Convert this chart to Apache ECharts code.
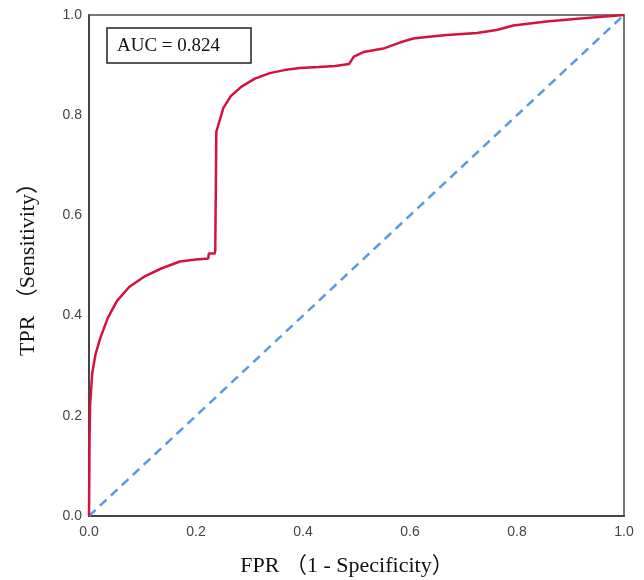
<!DOCTYPE html>
<html>
<head>
<meta charset="utf-8">
<script src="https://cdn.jsdelivr.net/npm/echarts@6/dist/echarts.min.js"></script>
<style>html,body{margin:0;padding:0;background:#fff}#c{width:644px;height:580px}</style>
</head>
<body>
<div id="c"></div>
<script>
var fpr = [0, 0.001, 0.002, 0.006, 0.012, 0.021, 0.035, 0.052, 0.075, 0.105, 0.135, 0.170, 0.200, 0.223, 0.224, 0.235, 0.236, 0.238, 0.251, 0.265, 0.285, 0.310, 0.338, 0.365, 0.394, 0.430, 0.460, 0.486, 0.495, 0.513, 0.550, 0.581, 0.606, 0.640, 0.669, 0.725, 0.762, 0.793, 0.855, 0.918, 1.0];
var tpr = [0, 0.150, 0.220, 0.285, 0.322, 0.355, 0.395, 0.429, 0.457, 0.479, 0.494, 0.508, 0.512, 0.514, 0.524, 0.524, 0.530, 0.767, 0.814, 0.838, 0.857, 0.873, 0.884, 0.890, 0.894, 0.896, 0.898, 0.902, 0.917, 0.926, 0.933, 0.945, 0.953, 0.957, 0.960, 0.964, 0.970, 0.979, 0.987, 0.993, 1.0];
var refX = [0, 1];
var refY = [0, 1];
var ticks = [0, 0.2, 0.4, 0.6, 0.8, 1.0];
var aucText = 'AUC = 0.824';
var xTitle = 'FPR （1 - Specificity）';
var yTitle = 'TPR （Sensitivity）';

var roc = fpr.map(function (v, i) { return [v, tpr[i]]; });
var diag = refX.map(function (v, i) { return [v, refY[i]]; });

var chart = echarts.init(document.getElementById('c'), null, {renderer: 'canvas'});
var tickLabel = {color: '#444', fontFamily: 'Liberation Sans, Arial, sans-serif', fontSize: 14,
  formatter: function (v) { return v.toFixed(1); }};
var serif = 'Liberation Serif, "Times New Roman", "Noto Sans CJK SC", serif';
chart.setOption({
  animation: false,
  backgroundColor: '#fff',
  grid: {left: 89, right: 20, top: 15, bottom: 64, show: true, borderColor: '#777', borderWidth: 2},
  xAxis: {type: 'value', min: 0, max: 1, interval: 0.2,
    axisLine: {show: true, lineStyle: {color: '#444', width: 2}},
    axisTick: {show: false}, splitLine: {show: false},
    axisLabel: Object.assign({margin: 9}, tickLabel)},
  yAxis: {type: 'value', min: 0, max: 1, interval: 0.2,
    axisLine: {show: true, lineStyle: {color: '#444', width: 2}},
    axisTick: {show: false}, splitLine: {show: false},
    axisLabel: Object.assign({margin: 7}, tickLabel)},
  series: [
    {type: 'line', data: diag, showSymbol: false, z: 2,
      lineStyle: {color: '#5b9ae0', width: 2.5, type: [9, 6]}},
    {type: 'line', data: roc, showSymbol: false, z: 3,
      lineStyle: {color: '#d2143c', width: 2.5}}
  ],
  graphic: [
    {type: 'rect', shape: {x: 107, y: 28, width: 144, height: 35},
      style: {fill: '#fff', stroke: '#222', lineWidth: 1.5}, z: 10},
    {type: 'text', x: 117, y: 46, z: 11,
      style: {text: aucText, font: '19px ' + serif, fill: '#111', textVerticalAlign: 'middle', verticalAlign: 'middle'}},
    {type: 'text', x: 347, y: 566, z: 11,
      style: {text: xTitle, font: '22px ' + serif, fill: '#111', align: 'center', verticalAlign: 'middle', textAlign: 'center', textVerticalAlign: 'middle'}},
    {type: 'text', x: 28, y: 264, rotation: Math.PI / 2, z: 11,
      style: {text: yTitle, font: '22px ' + serif, fill: '#111', align: 'center', verticalAlign: 'middle', textAlign: 'center', textVerticalAlign: 'middle'}}
  ]
});
</script>
</body>
</html>
